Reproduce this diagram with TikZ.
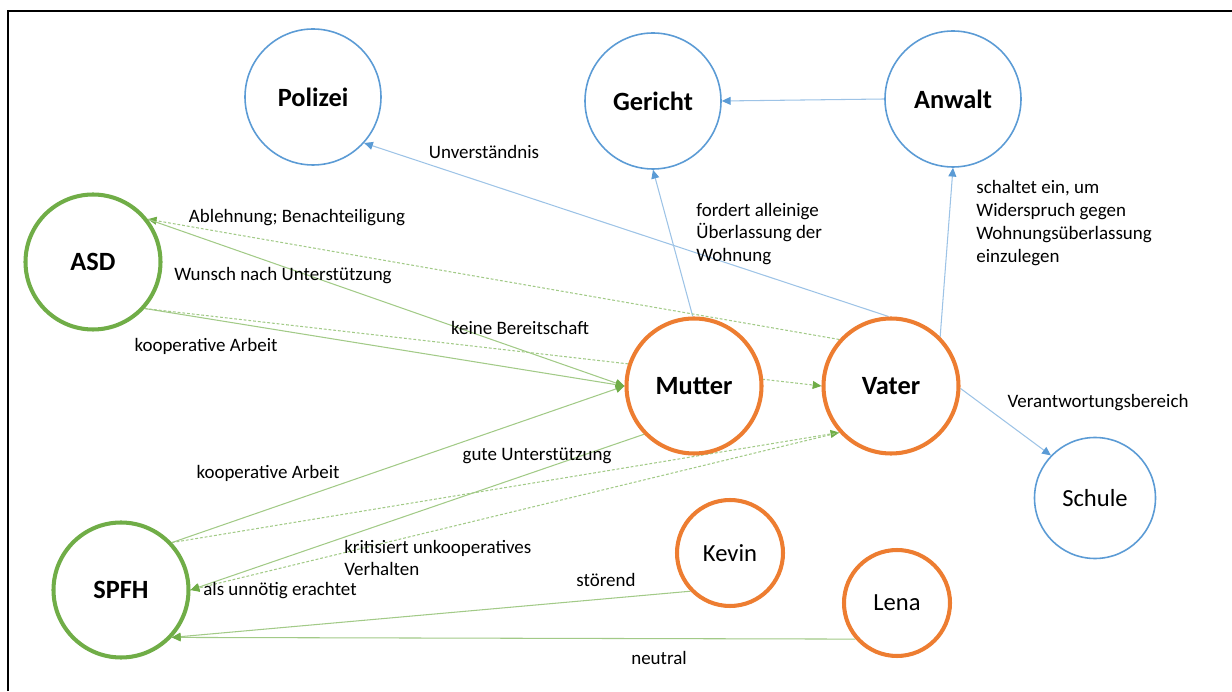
\documentclass[tikz,border=0pt]{standalone}
\usepackage{fontspec}
\setmainfont{Carlito}
\usetikzlibrary{arrows.meta}
\definecolor{offblue}{HTML}{5B9BD5}
\definecolor{offgreen}{HTML}{70AD47}
\definecolor{offorange}{HTML}{ED7D31}
\pgfdeclarelayer{bg}
\pgfsetlayers{bg,main}
\tikzset{
  amt/.style={circle, draw=offblue, line width=0.9pt, fill=white, minimum size=2.72cm, font=\fontsize{15}{18}\selectfont\bfseries},
  hilfe/.style={circle, draw=offgreen, line width=2.3pt, fill=white, minimum size=2.7cm, font=\fontsize{15}{18}\selectfont\bfseries},
  person/.style={circle, draw=offorange, line width=2.3pt, fill=white, minimum size=2.7cm, font=\fontsize{15}{18}\selectfont\bfseries},
  kind/.style={person, minimum size=2.12cm, font=\fontsize{14}{17}\selectfont},
  lbl/.style={font=\fontsize{10.8}{13}\selectfont, align=left, inner sep=0pt},
  blauline/.style={draw=offblue!60, line width=0.6pt, -{Triangle[length=5pt,width=4.5pt,color=offblue]}},
  gruenline/.style={draw=offgreen!65, line width=0.6pt, -{Triangle[length=5pt,width=4.5pt,color=offgreen]}},
  punktline/.style={gruenline, dash pattern=on 1.6pt off 1.1pt}
}
\begin{document}
\begin{tikzpicture}
  \useasboundingbox (0,0) rectangle (24.64,13.82);
  % 枠
  \draw[line width=1.1pt] (0.16,0) -- (0.16,13.6) -- (24.64,13.6);

  % 機関
  \node[amt] (polizei) at (6.26,11.88) {Polizei};
  \node[amt] (gericht) at (13.06,11.8) {Gericht};
  \node[amt] (anwalt) at (19.06,11.84) {Anwalt};
  \node[amt, minimum size=2.42cm, font=\fontsize{14}{17}\selectfont] (schule) at (21.9,3.86) {Schule};

  % 支援
  \node[hilfe] (asd) at (1.86,8.58) {ASD};
  \node[hilfe] (spfh) at (2.42,2.02) {SPFH};

  % 家族
  \node[person] (mutter) at (13.88,6.1) {Mutter};
  \node[person] (vater) at (17.82,6.1) {Vater};
  \node[kind] (kevin) at (14.6,2.76) {Kevin};
  \node[kind] (lena) at (17.94,1.76) {Lena};

  % 矢印
  \begin{pgfonlayer}{bg}
    \draw[blauline] (vater.92) -- (polizei.-42);
    \draw[blauline] (mutter.91) -- (gericht.south);
    \draw[blauline] (anwalt.west) -- (gericht.east);
    \draw[blauline] (vater.45) -- (anwalt.south);
    \draw[blauline] (vater.-2) -- (schule.136);

    \draw[punktline] (vater.138) -- (asd.38);
    \draw[gruenline] (asd.38) -- (mutter.west);
    \draw[gruenline] (asd.-42) -- (mutter.west);
    \draw[punktline] (asd.-42) -- (vater.west);

    \draw[gruenline] (spfh.43) -- (mutter.west);
    \draw[punktline] (spfh.43) -- (vater.222);
    \draw[gruenline] (mutter.224) -- (spfh.east);
    \draw[punktline] (vater.222) -- (spfh.east);

    \draw[gruenline] (kevin.224) -- (spfh.-43);
    \draw[gruenline] (lena.221) -- (spfh.-43);
  \end{pgfonlayer}

  % ラベル
  \node[lbl] (lunv) at (9.68,10.78) {Unverständnis};
  \node[lbl, anchor=west] (lford) at (13.92,9.14) {fordert alleinige\\Überlassung der\\Wohnung};
  \node[lbl, anchor=west] (lschalt) at (19.52,9.36) {schaltet ein, um\\Widerspruch gegen\\Wohnungsüberlassung\\einzulegen};
  \node[lbl] (lverant) at (21.96,5.76) {Verantwortungsbereich};
  \node[lbl] (lableh) at (5.94,9.46) {Ablehnung; Benachteiligung};
  \node[lbl] (lwunsch) at (5.66,8.3) {Wunsch nach Unterstützung};
  \node[lbl] (lkeine) at (10.4,7.26) {keine Bereitschaft};
  \node[lbl] (lkoop1) at (4.12,6.9) {kooperative Arbeit};
  \node[lbl] (lkoop2) at (5.36,4.36) {kooperative Arbeit};
  \node[lbl] (lgute) at (10.74,4.7) {gute Unterstützung};
  \node[lbl, anchor=west] (lkrit) at (6.88,2.66) {kritisiert unkooperatives\\Verhalten};
  \node[lbl] (lunn) at (5.6,2.0) {als unnötig erachtet};
  \node[lbl] (lstoer) at (12.12,2.22) {störend};
  \node[lbl] (lneut) at (13.18,0.66) {neutral};
\end{tikzpicture}
\end{document}
